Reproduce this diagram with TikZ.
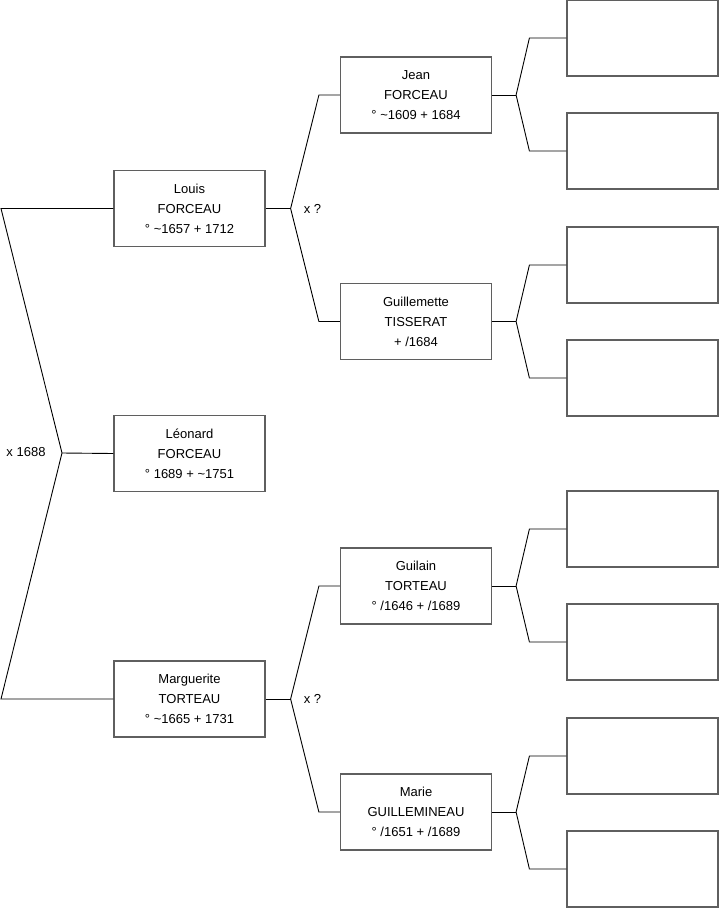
\documentclass[tikz,border=0pt]{standalone}
\usepackage{fontspec}
\setmainfont{Liberation Sans}
\usetikzlibrary{positioning}
\definecolor{boxgray}{RGB}{95,95,95}

\begin{document}
\begin{tikzpicture}[x=1pt,y=-1pt,
  person/.style={draw=boxgray,line width=1.2pt,minimum width=151pt,minimum height=76pt,
    align=center,inner sep=0pt,font=\fontsize{13}{20}\selectfont},
  link/.style={line width=0.9pt},
  wedding/.style={font=\fontsize{13}{16}\selectfont,inner sep=0pt}]
  \useasboundingbox (0,0) rectangle (719,908);
  % child and parents
  \node[person] (louis) at (189.5,208.5) {Louis\\FORCEAU\\° \textasciitilde1657 + 1712};
  \node[person] (leonard) at (189.5,453.5) {Léonard\\FORCEAU\\° 1689 + \textasciitilde1751};
  \node[person] (marguerite) at (189.5,699) {Marguerite\\TORTEAU\\° \textasciitilde1665 + 1731};
  % grandparents
  \node[person] (jean) at (416,95) {Jean\\FORCEAU\\° \textasciitilde1609 + 1684};
  \node[person] (guillemette) at (416,321.5) {Guillemette\\TISSERAT\\+ /1684};
  \node[person] (guilain) at (416,586) {Guilain\\TORTEAU\\° /1646 + /1689};
  \node[person] (marie) at (416,812) {Marie\\GUILLEMINEAU\\° /1651 + /1689};
  % empty boxes
  \foreach \i/\y in {1/38, 2/151, 3/265, 4/378, 5/529, 6/642, 7/756, 8/869} {
    \node[person] (anc\i) at (642.5,\y) {};
  }
  % left bracket
  \coordinate (fork-leonard) at (62,453);
  \draw[link] (louis.west) -- (louis.west -| 1,0) -- (fork-leonard)
    -- (marguerite.west -| 1,0) -- (marguerite.west);
  \draw[link] (fork-leonard) -- (leonard.west);
  \node[wedding] (wed-leonard) at (26,452) {x 1688};
  % forks: kid / father / mother / stub / bend
  \foreach \kid/\up/\down/\a/\b in {
    louis/jean/guillemette/25/21,
    marguerite/guilain/marie/25/21,
    jean/anc1/anc2/24/37,
    guillemette/anc3/anc4/24/37,
    guilain/anc5/anc6/24/37,
    marie/anc7/anc8/24/37} {
    \draw[link] (\kid.east) -- ++(\a,0) coordinate (fork-\kid);
    \draw[link] (\up.west) -- ([xshift=-\b pt]\up.west) -- (fork-\kid)
      -- ([xshift=-\b pt]\down.west) -- (\down.west);
  }
  \node[wedding,right=13pt of fork-louis] (wed-louis) {x ?};
  \node[wedding,right=13pt of fork-marguerite] (wed-marguerite) {x ?};
\end{tikzpicture}
\end{document}
